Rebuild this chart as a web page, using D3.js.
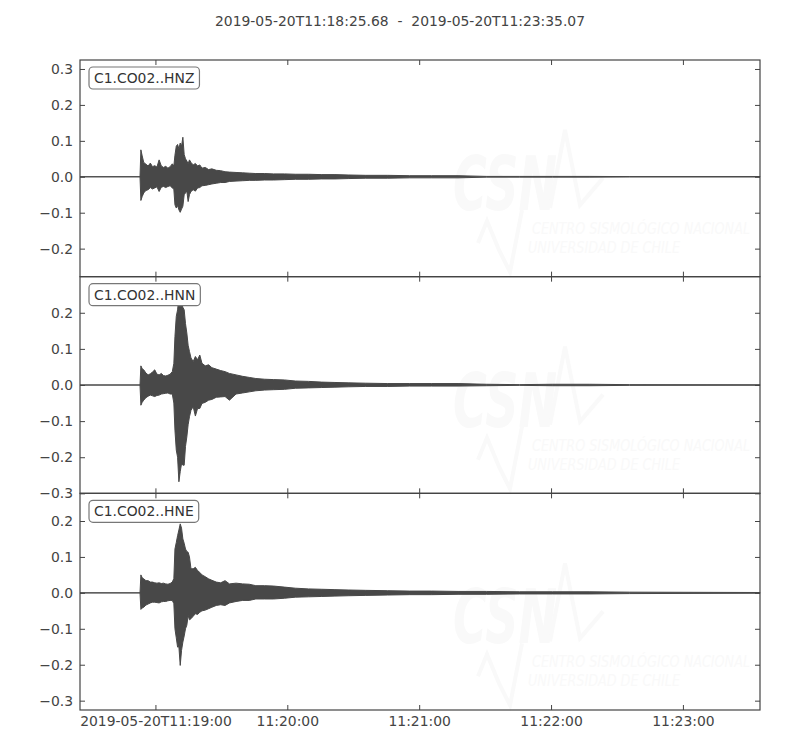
<!DOCTYPE html>
<html>
<head>
<meta charset="utf-8">
<script src="https://cdn.jsdelivr.net/npm/d3@7"></script>
<style>
  body { margin: 0; background: #fff; }
  text { font-family: "DejaVu Sans", sans-serif; }
</style>
</head>
<body>
<svg id="chart" width="800" height="750"></svg>
<script>
// trace window
var startTime = new Date(Date.UTC(2019, 4, 20, 11, 18, 25, 680));
var endTime = new Date(Date.UTC(2019, 4, 20, 11, 23, 35, 70));
var titleText = "2019-05-20T11:18:25.68  -  2019-05-20T11:23:35.07";

var channels = ["C1.CO02..HNZ", "C1.CO02..HNN", "C1.CO02..HNE"];

// seconds after start for the min/max envelope samples
var offsets = [0, 27.3, 27.7, 28.3, 29, 30, 31, 32, 33, 34,
  35, 36, 37, 38, 39, 40, 41, 42, 42.7, 43.2,
  43.8, 44.4, 45, 45.6, 46.2, 46.8, 47.4, 48, 48.6, 49.2,
  49.8, 50.5, 51.5, 52.5, 53.5, 54.5, 55.5, 57, 58.5, 60,
  62, 64, 66, 68, 71, 74, 77, 80, 84, 88,
  93, 98, 104, 110, 116, 122, 130, 140, 150, 160,
  172, 185, 200, 215, 232, 250, 309.4];

var hnzMax = [0, 0, 0.075, 0.058, 0.040, 0.035, 0.030, 0.038, 0.028, 0.031,
  0.027, 0.047, 0.030, 0.026, 0.029, 0.024, 0.028, 0.036, 0.030, 0.060,
  0.085, 0.090, 0.078, 0.094, 0.085, 0.110, 0.062, 0.050, 0.044, 0.036,
  0.047, 0.040, 0.033, 0.037, 0.030, 0.033, 0.024, 0.026, 0.020, 0.022,
  0.018, 0.017, 0.014, 0.013, 0.012, 0.011, 0.010, 0.009, 0.009, 0.008,
  0.008, 0.007, 0.007, 0.006, 0.006, 0.005, 0.004, 0.004, 0.003, 0.003,
  0.003, 0.001, 0.001, 0.001, 0.001, 0.0005, 0.0005];
var hnzMin = [0, 0, -0.066, -0.055, -0.045, -0.038, -0.036, -0.030, -0.034, -0.031,
  -0.028, -0.041, -0.029, -0.027, -0.030, -0.027, -0.025, -0.031, -0.035, -0.078,
  -0.087, -0.080, -0.092, -0.099, -0.090, -0.082, -0.050, -0.045, -0.040, -0.069,
  -0.050, -0.041, -0.036, -0.040, -0.031, -0.030, -0.025, -0.024, -0.022, -0.020,
  -0.018, -0.016, -0.016, -0.013, -0.012, -0.011, -0.010, -0.010, -0.009, -0.009,
  -0.008, -0.007, -0.007, -0.006, -0.006, -0.005, -0.004, -0.004, -0.003, -0.003,
  -0.003, -0.001, -0.001, -0.001, -0.001, -0.0005, -0.0005];

var hnnMax = [0, 0, 0.053, 0.045, 0.042, 0.033, 0.028, 0.031, 0.036, 0.042,
  0.030, 0.028, 0.032, 0.026, 0.025, 0.027, 0.030, 0.037, 0.060, 0.134,
  0.190, 0.208, 0.244, 0.230, 0.227, 0.215, 0.208, 0.170, 0.144, 0.110,
  0.093, 0.075, 0.065, 0.079, 0.070, 0.083, 0.060, 0.053, 0.056, 0.048,
  0.044, 0.040, 0.037, 0.032, 0.028, 0.024, 0.021, 0.018, 0.016, 0.015,
  0.014, 0.011, 0.010, 0.008, 0.007, 0.006, 0.005, 0.004, 0.004, 0.004,
  0.004, 0.002, 0.001, 0.002, 0.002, 0.001, 0.0005];
var hnnMin = [0, 0, -0.056, -0.048, -0.042, -0.035, -0.031, -0.028, -0.030, -0.032,
  -0.029, -0.028, -0.025, -0.024, -0.023, -0.022, -0.025, -0.025, -0.050, -0.125,
  -0.180, -0.200, -0.268, -0.240, -0.218, -0.222, -0.222, -0.170, -0.144, -0.110,
  -0.088, -0.070, -0.060, -0.086, -0.065, -0.065, -0.051, -0.048, -0.042, -0.040,
  -0.034, -0.033, -0.032, -0.042, -0.025, -0.022, -0.019, -0.016, -0.014, -0.013,
  -0.012, -0.009, -0.008, -0.007, -0.006, -0.005, -0.004, -0.004, -0.003, -0.003,
  -0.003, -0.002, -0.001, -0.002, -0.002, -0.001, -0.0005];

var hneMax = [0, 0, 0.050, 0.042, 0.039, 0.034, 0.034, 0.030, 0.030, 0.028,
  0.027, 0.028, 0.026, 0.027, 0.025, 0.024, 0.026, 0.030, 0.040, 0.122,
  0.140, 0.159, 0.175, 0.192, 0.180, 0.150, 0.138, 0.122, 0.115, 0.113,
  0.100, 0.067, 0.067, 0.071, 0.062, 0.057, 0.050, 0.045, 0.039, 0.035,
  0.030, 0.028, 0.034, 0.025, 0.027, 0.025, 0.024, 0.020, 0.020, 0.019,
  0.016, 0.013, 0.011, 0.010, 0.009, 0.008, 0.007, 0.006, 0.005, 0.005,
  0.004, 0.004, 0.003, 0.003, 0.003, 0.002, 0.001];
var hneMin = [0, 0, -0.046, -0.042, -0.040, -0.034, -0.031, -0.028, -0.026, -0.026,
  -0.027, -0.028, -0.025, -0.024, -0.024, -0.022, -0.021, -0.021, -0.030, -0.100,
  -0.125, -0.151, -0.150, -0.202, -0.160, -0.137, -0.120, -0.100, -0.090, -0.063,
  -0.075, -0.072, -0.065, -0.058, -0.060, -0.054, -0.050, -0.048, -0.044, -0.040,
  -0.035, -0.033, -0.035, -0.028, -0.024, -0.021, -0.021, -0.017, -0.017, -0.017,
  -0.015, -0.012, -0.011, -0.010, -0.009, -0.008, -0.007, -0.006, -0.005, -0.005,
  -0.004, -0.004, -0.003, -0.003, -0.003, -0.002, -0.001];

var maxSeries = [hnzMax, hnnMax, hneMax];
var minSeries = [hnzMin, hnnMin, hneMin];

var yDomains = [[-0.278, 0.325], [-0.3, 0.3], [-0.326, 0.277]];
var yTicks = [[-0.2, -0.1, 0, 0.1, 0.2, 0.3],
  [-0.3, -0.2, -0.1, 0, 0.1, 0.2],
  [-0.3, -0.2, -0.1, 0, 0.1, 0.2]];
var xTickLabels = ["11:19:00", "11:20:00", "11:21:00", "11:22:00", "11:23:00"];

var ink = "#444444";
var traceColor = "#484848";
var markColor = "#f9f9f9";
var fontSize = 13.9;

var svg = d3.select("#chart");
var plotLeft = 80, plotRight = 760, plotTop = 60, plotBottom = 710;
var panelH = (plotBottom - plotTop) / channels.length;

var x = d3.scaleUtc().domain([startTime, endTime]).range([plotLeft, plotRight]);
var xTickDates = xTickLabels.map(function(s) {
  return new Date("2019-05-20T" + s + "Z");
});
var fmtFirst = d3.utcFormat("%Y-%m-%dT%H:%M:%S");
var fmtRest = d3.utcFormat("%H:%M:%S");

svg.append("text")
  .attr("x", 400).attr("y", 26)
  .attr("text-anchor", "middle")
  .attr("fill", ink)
  .attr("font-size", fontSize)
  .style("white-space", "pre")
  .text(titleText);

function drawWatermark(g, y0) {
  var wm = g.append("g").attr("class", "watermark");
  wm.append("text")
    .attr("x", 453).attr("y", y0 + 150)
    .attr("font-size", 74)
    .attr("font-weight", "bold")
    .attr("font-style", "italic")
    .attr("textLength", 104)
    .attr("lengthAdjust", "spacingAndGlyphs")
    .attr("fill", markColor)
    .text("CSN");
  wm.append("path")
    .attr("d", d3.line()([[550, y0 + 148], [565, y0 + 70], [580, y0 + 145], [603, y0 + 118]]))
    .attr("fill", "none").attr("stroke", markColor).attr("stroke-width", 4);
  wm.append("path")
    .attr("d", d3.line()([[478, y0 + 183], [487, y0 + 161], [499, y0 + 190], [510, y0 + 212], [522, y0 + 150]]))
    .attr("fill", "none").attr("stroke", markColor).attr("stroke-width", 4);
  wm.append("text")
    .attr("x", 532).attr("y", y0 + 174)
    .attr("font-size", 16)
    .attr("font-style", "italic")
    .attr("textLength", 218)
    .attr("lengthAdjust", "spacingAndGlyphs")
    .attr("fill", markColor)
    .text("CENTRO SISMOLÓGICO NACIONAL");
  wm.append("text")
    .attr("x", 528).attr("y", y0 + 193)
    .attr("font-size", 16)
    .attr("font-style", "italic")
    .attr("textLength", 152)
    .attr("lengthAdjust", "spacingAndGlyphs")
    .attr("fill", markColor)
    .text("UNIVERSIDAD DE CHILE");
}

function styleAxis(g) {
  g.select(".domain").remove();
  g.selectAll(".tick line").attr("stroke", ink);
  g.selectAll(".tick text")
    .attr("fill", ink)
    .attr("font-size", fontSize)
    .attr("font-family", "DejaVu Sans, sans-serif");
}

channels.forEach(function(name, i) {
  var y0 = plotTop + panelH * i;
  var y1 = y0 + panelH;
  var g = svg.append("g").attr("class", "panel");

  drawWatermark(g, y0);

  var y = d3.scaleLinear().domain(yDomains[i]).range([y1, y0]);
  var pts = offsets.map(function(s, k) {
    return {t: new Date(startTime.getTime() + s * 1000), hi: maxSeries[i][k], lo: minSeries[i][k]};
  });
  var area = d3.area()
    .x(function(d) { return x(d.t); })
    .y0(function(d) { return y(d.lo); })
    .y1(function(d) { return y(d.hi); });
  g.append("path")
    .datum(pts)
    .attr("d", area)
    .attr("fill", traceColor)
    .attr("stroke", traceColor)
    .attr("stroke-width", 1);

  // inward ticks on all four sides
  g.append("g").attr("transform", "translate(" + plotLeft + ",0)")
    .call(d3.axisLeft(y).tickValues(yTicks[i]).tickSizeInner(-5).tickSizeOuter(0)
      .tickPadding(7).tickFormat(d3.format(".1f")))
    .call(styleAxis);
  g.append("g").attr("transform", "translate(" + plotRight + ",0)")
    .call(d3.axisRight(y).tickValues(yTicks[i]).tickSizeInner(-5).tickSizeOuter(0).tickFormat(""))
    .call(styleAxis);
  g.append("g").attr("transform", "translate(0," + y0 + ")")
    .call(d3.axisTop(x).tickValues(xTickDates).tickSizeInner(-5).tickSizeOuter(0).tickFormat(""))
    .call(styleAxis);
  var last = i === channels.length - 1;
  g.append("g").attr("transform", "translate(0," + y1 + ")")
    .call(d3.axisBottom(x).tickValues(xTickDates).tickSizeInner(-5).tickSizeOuter(0)
      .tickPadding(6)
      .tickFormat(last ? function(d, k) { return k === 0 ? fmtFirst(d) : fmtRest(d); } : ""))
    .call(styleAxis);

  g.append("rect")
    .attr("x", plotLeft).attr("y", y0)
    .attr("width", plotRight - plotLeft).attr("height", panelH)
    .attr("fill", "none").attr("stroke", ink).attr("stroke-width", 1.2);

  // channel label box
  var lab = g.append("g");
  var txt = lab.append("text")
    .attr("x", 94).attr("y", y0 + 23)
    .attr("fill", "#333")
    .attr("font-size", fontSize)
    .text(name);
  var bb = txt.node().getBBox();
  lab.insert("rect", "text")
    .attr("x", bb.x - 5).attr("y", y0 + 7)
    .attr("width", bb.width + 10).attr("height", 22)
    .attr("rx", 4)
    .attr("fill", "#fff")
    .attr("stroke", "#777")
    .attr("stroke-width", 1.2);
});
</script>
</body>
</html>
